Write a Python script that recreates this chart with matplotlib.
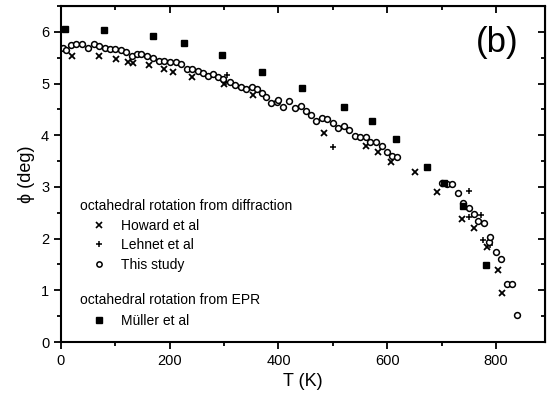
import numpy as np
import matplotlib.pyplot as plt
from matplotlib.ticker import MultipleLocator
from matplotlib.lines import Line2D

plt.rcParams['font.family'] = ['Liberation Sans', 'DejaVu Sans']

# ------------------------------------------------------------
# Datos (T en K, phi en grados)
# ------------------------------------------------------------
howard_T = [20, 70, 101, 123, 132, 162, 189, 206, 241, 300, 353,
            483, 561, 583, 607, 651, 691, 737, 759, 783, 803, 811]
howard_phi = [5.53, 5.53, 5.47, 5.41, 5.40, 5.36, 5.28, 5.22, 5.12, 4.99, 4.78,
              4.04, 3.79, 3.67, 3.48, 3.29, 2.90, 2.38, 2.20, 1.84, 1.39, 0.95]

lehnet_T = [303, 305, 500, 750, 750, 772, 776, 789]
lehnet_phi = [5.03, 5.16, 3.78, 2.92, 2.42, 2.46, 1.97, 1.88]

study_T = [4, 10, 18, 28, 38, 50, 61, 70, 81, 90, 99, 110, 119, 130, 139, 148,
           159, 169, 180, 189, 200, 211, 220, 231, 241, 252, 261, 270, 280, 289,
           298, 311, 320, 331, 340, 351, 360, 369, 378, 387, 397, 400, 408, 419,
           430, 441, 450, 460, 470, 480, 490, 500, 509, 520, 529, 540, 550, 561,
           569, 579, 590, 599, 608, 619, 700, 710, 719, 730, 739, 750, 759, 768,
           779, 787, 790, 801, 809, 820, 829, 838]
study_phi = [5.69, 5.65, 5.74, 5.76, 5.76, 5.69, 5.76, 5.73, 5.69, 5.66, 5.66,
             5.65, 5.61, 5.53, 5.57, 5.57, 5.53, 5.49, 5.44, 5.43, 5.41, 5.41,
             5.37, 5.28, 5.28, 5.24, 5.21, 5.15, 5.18, 5.12, 5.08, 5.02, 4.97,
             4.93, 4.89, 4.93, 4.89, 4.82, 4.73, 4.62, 4.64, 4.68, 4.55, 4.66,
             4.53, 4.57, 4.47, 4.39, 4.27, 4.33, 4.31, 4.23, 4.14, 4.18, 4.10,
             3.98, 3.97, 3.97, 3.87, 3.87, 3.79, 3.68, 3.60, 3.58, 3.08, 3.05,
             3.05, 2.88, 2.69, 2.59, 2.48, 2.34, 2.30, 1.94, 2.03, 1.74, 1.60,
             1.12, 1.12, 0.52]

muller_T = [7, 79, 169, 226, 296, 369, 443, 520, 572, 616, 673, 705, 739, 781]
muller_phi = [6.05, 6.03, 5.92, 5.78, 5.55, 5.22, 4.91, 4.55, 4.27, 3.93,
              3.38, 3.07, 2.63, 1.49]

# ------------------------------------------------------------
# Figura
# ------------------------------------------------------------
fig = plt.figure(figsize=(5.47, 3.97), dpi=100)
ax = fig.add_axes([0.1115, 0.1385, 0.8845, 0.8465])

ax.plot(howard_T, howard_phi, 'x', color='black', ms=4.5, mew=1.3)
ax.plot(lehnet_T, lehnet_phi, '+', color='black', ms=5, mew=1.1)
ax.plot(study_T, study_phi, 'o', mfc='white', mec='black', ms=4.2, mew=1.1)
ax.plot(muller_T, muller_phi, 's', color='black', ms=4.5)

ax.set_xlim(0, 890)
ax.set_ylim(0, 6.5)
ax.xaxis.set_major_locator(MultipleLocator(200))
ax.xaxis.set_minor_locator(MultipleLocator(100))
ax.yaxis.set_major_locator(MultipleLocator(1))
ax.yaxis.set_minor_locator(MultipleLocator(0.5))

ax.tick_params(which='both', direction='out', width=1.3, labelsize=10.5)
ax.tick_params(which='major', length=5)
ax.tick_params(which='minor', length=3)
for s in ax.spines.values():
    s.set_linewidth(1.5)

# ejes superior y derecho con ticks hacia dentro, sin etiquetas
top = ax.secondary_xaxis('top')
top.xaxis.set_major_locator(MultipleLocator(200))
top.xaxis.set_minor_locator(MultipleLocator(100))
top.tick_params(which='both', direction='in', width=1.3, labeltop=False)
top.tick_params(which='major', length=5)
top.tick_params(which='minor', length=3)
right = ax.secondary_yaxis('right')
right.yaxis.set_major_locator(MultipleLocator(1))
right.yaxis.set_minor_locator(MultipleLocator(0.5))
right.tick_params(which='both', direction='in', width=1.3, labelright=False)
right.tick_params(which='major', length=5)
right.tick_params(which='minor', length=3)

ax.set_xlabel('T (K)', fontsize=13)
ax.set_ylabel('ϕ (deg)', fontsize=13, labelpad=4)

ax.text(0.945, 0.89, '(b)', transform=ax.transAxes, fontsize=25,
        ha='right', va='center')

# leyendas agrupadas
h_diff = [Line2D([], [], ls='', marker='x', color='black', ms=4, mew=1.2),
          Line2D([], [], ls='', marker='+', color='black', ms=4.5, mew=1.1),
          Line2D([], [], ls='', marker='o', mfc='white', mec='black', ms=3.8, mew=1.1)]
leg1 = ax.legend(h_diff, ['Howard et al', 'Lehnet et al', 'This study'],
                 title='octahedral rotation from diffraction', frameon=False,
                 fontsize=10, title_fontproperties={'size': 10},
                 alignment='left', loc='upper left',
                 bbox_to_anchor=(0.023, 0.45), handlelength=2.6,
                 handletextpad=0.3, labelspacing=0.4, borderaxespad=0.2)
ax.add_artist(leg1)
h_epr = [Line2D([], [], ls='', marker='s', color='black', ms=4)]
ax.legend(h_epr, ['Müller et al'], title='octahedral rotation from EPR',
          frameon=False, fontsize=10, title_fontproperties={'size': 10},
          alignment='left', loc='upper left', bbox_to_anchor=(0.023, 0.17),
          handlelength=2.6, handletextpad=0.3, borderaxespad=0.2)

plt.savefig('out.png', dpi=100)
